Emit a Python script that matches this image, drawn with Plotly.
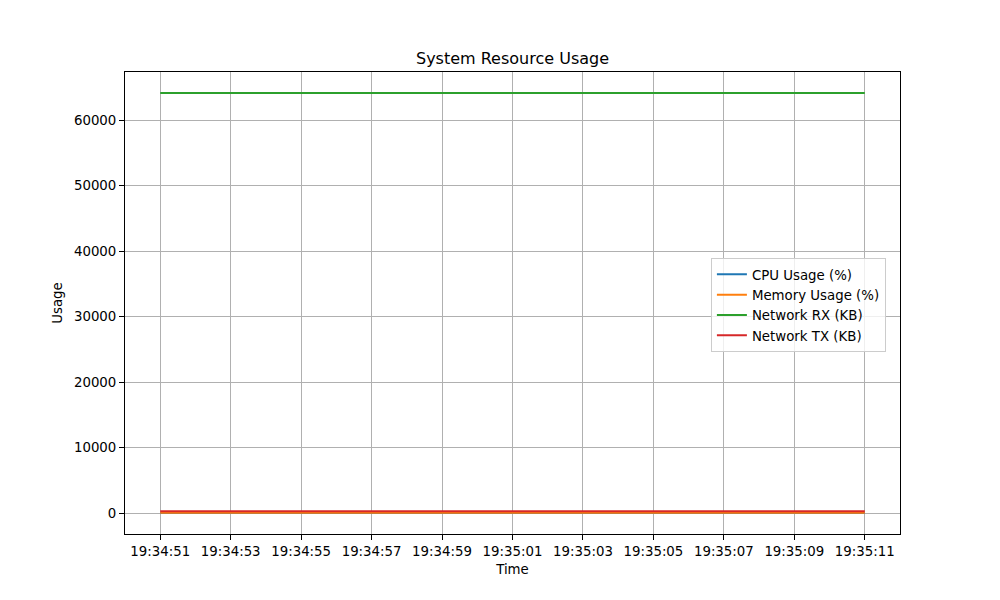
import plotly.graph_objects as go

times = [f"2024-01-01 19:34:{s:02d}" for s in range(51, 60)] + [f"2024-01-01 19:35:{s:02d}" for s in range(0, 12)]
cpu = [5.0] * len(times)
memory = [45.0] * len(times)
net_rx = [64150.0] * len(times)
net_tx = [260.0] * len(times)

series = [
    ("CPU Usage (%)", cpu, "#1f77b4"),
    ("Memory Usage (%)", memory, "#ff7f0e"),
    ("Network RX (KB)", net_rx, "#2ca02c"),
    ("Network TX (KB)", net_tx, "#d62728"),
]

fig = go.Figure()
for name, vals, color in series:
    fig.add_trace(go.Scatter(x=times, y=vals, mode="lines", name=name,
                             line=dict(color=color, width=2)))

font = dict(family="DejaVu Sans", size=13.33, color="black")
axis_common = dict(showline=True, linecolor="black", linewidth=1, mirror=True,
                   ticks="outside", ticklen=5, tickcolor="black",
                   showgrid=True, gridcolor="#b0b0b0", gridwidth=1, zeroline=False,
                   tickfont=font)

fig.update_layout(
    width=1000, height=600,
    paper_bgcolor="white", plot_bgcolor="white",
    margin=dict(l=125, r=100, t=72, b=66),
    font=font,
    title=dict(text="System Resource Usage", x=0.5125, xanchor="center", y=1 - 58/600, yanchor="middle",
               font=dict(family="DejaVu Sans", size=16, color="black")),
    xaxis=dict(title=dict(text="Time", font=font, standoff=6),
               type="date", tickformat="%H:%M:%S", dtick=2000,
               tick0="2024-01-01 19:34:51",
               range=["2024-01-01 19:34:50", "2024-01-01 19:35:12"], **axis_common),
    yaxis=dict(title=dict(text="Usage", font=font, standoff=8),
               range=[-3207, 67357], dtick=10000, tickformat="d", **axis_common),
    legend=dict(x=0.756, y=0.597, xanchor="left", yanchor="top",
                bgcolor="rgba(255,255,255,0.8)", bordercolor="#cccccc", borderwidth=1,
                font=font, tracegroupgap=0),
    showlegend=True,
)

fig.write_html("out.html")
